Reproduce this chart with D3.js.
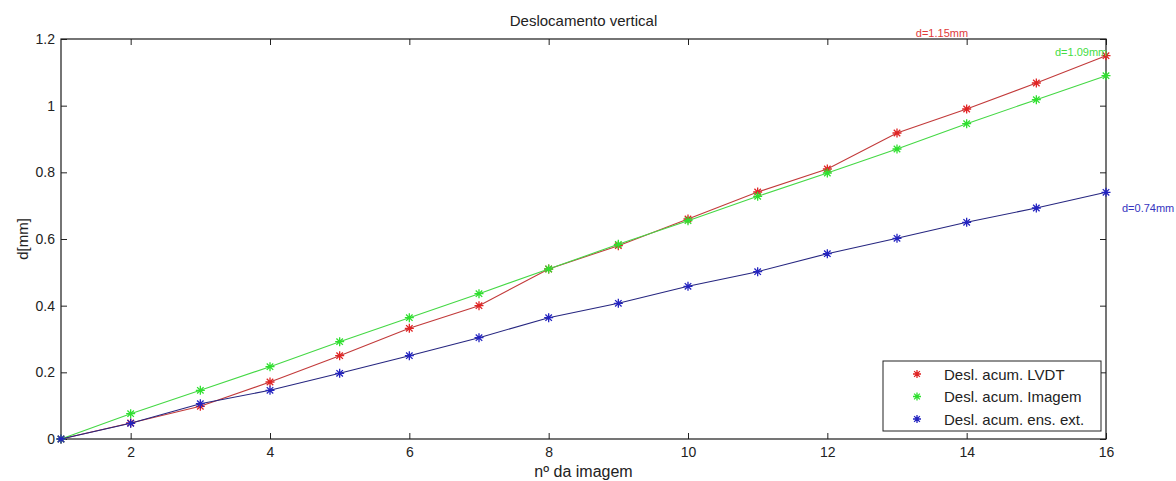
<!DOCTYPE html>
<html>
<head>
<meta charset="utf-8">
<script src="https://cdn.jsdelivr.net/npm/d3@7"></script>
<style>
  html, body { margin: 0; padding: 0; background: #fff; }
  svg { display: block; font-family: Arial, "Liberation Sans", sans-serif; }
</style>
</head>
<body>
<svg id="chart" width="1176" height="481"></svg>
<script>
// Image index (nº da imagem)
const images = [1, 2, 3, 4, 5, 6, 7, 8, 9, 10, 11, 12, 13, 14, 15, 16];

// Accumulated vertical displacement [mm]
const lvdt   = [0, 0.048, 0.098, 0.171, 0.250, 0.332, 0.400, 0.510, 0.580, 0.660, 0.741, 0.810, 0.918, 0.990, 1.068, 1.150];
const imagem = [0, 0.076, 0.146, 0.217, 0.292, 0.364, 0.436, 0.510, 0.584, 0.655, 0.728, 0.798, 0.870, 0.946, 1.018, 1.090];
const ensExt = [0, 0.047, 0.106, 0.146, 0.197, 0.250, 0.304, 0.364, 0.407, 0.458, 0.502, 0.556, 0.602, 0.650, 0.693, 0.740];

const xTicks = [2, 4, 6, 8, 10, 12, 14, 16];
const yTicks = [0, 0.2, 0.4, 0.6, 0.8, 1, 1.2];
const yTickLabels = ["0", "0.2", "0.4", "0.6", "0.8", "1", "1.2"];

const seriesNames = ["Desl. acum. LVDT", "Desl. acum. Imagem", "Desl. acum. ens. ext."];
const endLabels = ["d=1.15mm", "d=1.09mm", "d=0.74mm"];

const series = [
  { name: seriesNames[0], values: lvdt,   line: "#c23a3a", mark: "#e02424", label: endLabels[0] },
  { name: seriesNames[1], values: imagem, line: "#44d844", mark: "#2ee02e", label: endLabels[1] },
  { name: seriesNames[2], values: ensExt, line: "#262680", mark: "#2323c0", label: endLabels[2] }
];

const svg = d3.select("#chart");
const L = 61, R = 1106, T = 39, B = 439;

const x = d3.scaleLinear().domain([1, 16]).range([L, R]);
const y = d3.scaleLinear().domain([0, 1.2]).range([B, T]);

// Axes with inward ticks (bottom/left labelled, top/right unlabelled)
const tickLen = 6;
const axB = svg.append("g").attr("transform", `translate(0,${B})`)
  .call(d3.axisBottom(x).tickValues(xTicks).tickSizeInner(-tickLen).tickSizeOuter(0).tickPadding(8).tickFormat(d3.format("d")));
const axT = svg.append("g").attr("transform", `translate(0,${T})`)
  .call(d3.axisTop(x).tickValues(xTicks).tickSizeInner(-tickLen).tickSizeOuter(0).tickFormat(""));
const axL = svg.append("g").attr("transform", `translate(${L},0)`)
  .call(d3.axisLeft(y).tickValues(yTicks).tickSizeInner(-tickLen).tickSizeOuter(0).tickPadding(6)
    .tickFormat((d, i) => yTickLabels[i]));
const axR = svg.append("g").attr("transform", `translate(${R},0)`)
  .call(d3.axisRight(y).tickValues(yTicks).tickSizeInner(-tickLen).tickSizeOuter(0).tickFormat(""));

[axB, axT, axL, axR].forEach(a => {
  a.select(".domain").remove();
  a.selectAll(".tick line").attr("stroke", "#222").attr("stroke-width", 1);
  a.selectAll(".tick text").attr("fill", "#222").attr("font-size", 14)
    .attr("font-family", "Arial, 'Liberation Sans', sans-serif");
});

// Plot box
svg.append("rect").attr("x", L).attr("y", T).attr("width", R - L).attr("height", B - T)
  .attr("fill", "none").attr("stroke", "#1a1a1a").attr("stroke-width", 1.2);

// Star marker (MATLAB '*': plus + cross)
function star(g, cx, cy, color, s) {
  const d = s * 0.72;
  const p = `M${cx - s},${cy}L${cx + s},${cy}M${cx},${cy - s}L${cx},${cy + s}` +
            `M${cx - d},${cy - d}L${cx + d},${cy + d}M${cx - d},${cy + d}L${cx + d},${cy - d}`;
  g.append("path").attr("d", p).attr("stroke", color).attr("stroke-width", 1.3).attr("fill", "none");
}

const line = d3.line().x((d, i) => x(images[i])).y(d => y(d));

series.forEach(s => {
  const g = svg.append("g");
  g.append("path").datum(s.values).attr("d", line)
    .attr("fill", "none").attr("stroke", s.line).attr("stroke-width", 1.1);
  s.values.forEach((v, i) => star(g, x(images[i]), y(v), s.mark, 4.5));
});

// Final displacement annotations
const last = images.length - 1;
svg.append("text").attr("x", x(13.27)).attr("y", y(lvdt[last]) - 19)
  .attr("font-size", 11).attr("fill", "#e03a3a").text(series[0].label);
svg.append("text").attr("x", x(16) - 51).attr("y", y(imagem[last]) - 20)
  .attr("font-size", 11).attr("fill", "#44dd44").text(series[1].label);
svg.append("text").attr("x", R + 16).attr("y", y(ensExt[last]) + 20)
  .attr("font-size", 11).attr("fill", "#3434c0").text(series[2].label);

// Title and axis labels
svg.append("text").attr("x", (L + R) / 2).attr("y", 26).attr("text-anchor", "middle")
  .attr("font-size", 15).attr("fill", "#222").text("Deslocamento vertical");
svg.append("text").attr("x", (L + R) / 2).attr("y", 477).attr("text-anchor", "middle")
  .attr("font-size", 16).attr("fill", "#222").text("nº da imagem");
svg.append("text").attr("transform", `translate(28,${(T + B) / 2}) rotate(-90)`)
  .attr("text-anchor", "middle").attr("font-size", 15).attr("fill", "#222").text("d[mm]");

// Legend
const lg = svg.append("g");
lg.append("rect").attr("x", 883).attr("y", 361).attr("width", 218).attr("height", 70)
  .attr("fill", "#fff").attr("stroke", "#222").attr("stroke-width", 1);
series.forEach((s, i) => {
  const cy = 374 + i * 22.5;
  star(lg, 917, cy, s.mark, 4);
  lg.append("text").attr("x", 944).attr("y", cy + 5.5).attr("font-size", 15)
    .attr("fill", "#222").text(s.name);
});
</script>
</body>
</html>
